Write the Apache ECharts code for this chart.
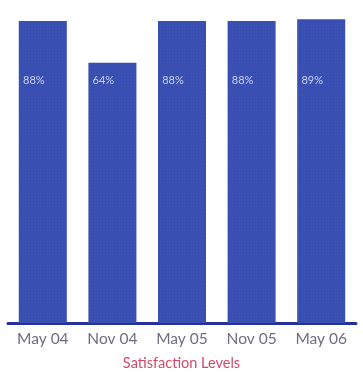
<!DOCTYPE html>
<html>
<head>
<meta charset="utf-8">
<script src="https://cdn.jsdelivr.net/npm/echarts@6/dist/echarts.min.js"></script>
<style>
html,body{margin:0;padding:0;background:#fff;}
#c{width:363px;height:378px;}
</style>
</head>
<body>
<div id="c"></div>
<script>
const categories = ['May 04', 'Nov 04', 'May 05', 'Nov 05', 'May 06'];
const satisfaction = [88, 64, 88, 88, 89];
const axisTitle = 'Satisfaction Levels';

const chart = echarts.init(document.getElementById('c'), null, {renderer: 'canvas'});
chart.setOption({
  animation: false,
  backgroundColor: '#ffffff',
  title: {
    text: axisTitle,
    left: 'center',
    top: 351,
    textStyle: {fontFamily: 'Lato', fontWeight: 'normal', fontSize: 14.5, color: '#d24a6a'}
  },
  grid: {left: 8, right: 7, top: 0, bottom: 55},
  xAxis: {
    type: 'category',
    data: categories,
    axisTick: {show: false},
    axisLine: {show: true, onZero: false, lineStyle: {color: '#26319a', width: 3}},
    axisLabel: {fontFamily: 'Lato', fontSize: 15.5, color: '#6e6e80', margin: 8}
  },
  yAxis: {
    type: 'value',
    min: -85,
    max: 100,
    startValue: -85,
    show: false,
    splitLine: {show: false}
  },
  series: [{
    type: 'bar',
    data: satisfaction,
    barCategoryGap: '31%',
    itemStyle: {
      color: '#3a50b2',
      decal: {
        symbol: 'rect',
        symbolSize: 0.6,
        color: 'rgba(25,35,130,0.35)',
        dashArrayX: [1, 2],
        dashArrayY: [1, 2]
      }
    },
    label: {
      show: true,
      position: 'insideBottom',
      distance: 237,
      offset: [-9, 0],
      formatter: '{c}%',
      fontFamily: 'Lato',
      fontSize: 11,
      color: '#c9d0f2'
    }
  }]
});
</script>
</body>
</html>
